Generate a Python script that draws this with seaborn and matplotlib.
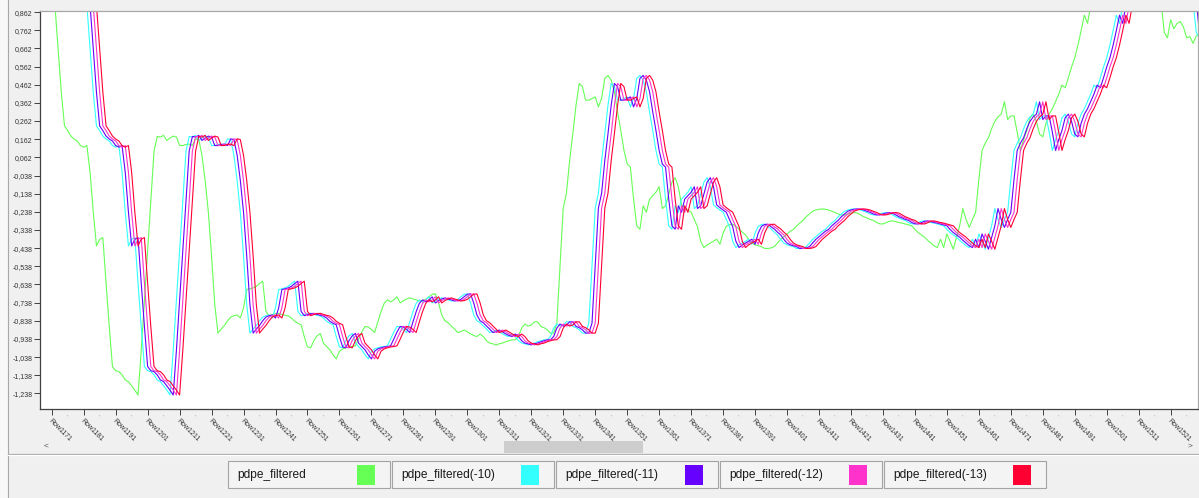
import numpy as np
import pandas as pd
import matplotlib
matplotlib.use("Agg")
import matplotlib.pyplot as plt
from matplotlib.patches import Rectangle
import seaborn as sns

# ---------------------------------------------------------------------------
# Data: pdpe_filtered by row, starting at Row1154 (rows before Row1171 are
# needed so the lagged copies cover the whole visible window).
# ---------------------------------------------------------------------------
first_row = 1154
pdpe_filtered = [
    1.30, 1.29, 1.27, 1.26, 1.24, 1.22, 1.21, 1.19, 1.17, 1.16,            # 1154-1163
    1.14, 1.12, 1.10, 1.08, 1.06, 1.04, 1.02, 0.99, 0.90, 0.66,            # 1164-1173
    0.42, 0.235, 0.209, 0.179, 0.163, 0.152, 0.127, 0.118, 0.127, -0.02,   # 1174-1183
    -0.24, -0.426, -0.389, -0.380, -0.63, -0.87, -1.09, -1.113, -1.118, -1.136,   # 1184-1193
    -1.164, -1.173, -1.197, -1.220, -1.247, -1.002, -0.727, -0.450, -0.177, 0.096,  # 1194-1203
    0.177, 0.174, 0.183, 0.155, 0.168, 0.179, 0.174, 0.127, 0.127, 0.133,   # 1204-1213
    0.135, 0.127, 0.164, 0.160, 0.073, -0.066, -0.241, -0.481, -0.749, -0.906,  # 1214-1223
    -0.884, -0.864, -0.838, -0.818, -0.810, -0.806, -0.823, -0.767, -0.666, -0.662,  # 1224-1233
    -0.657, -0.648, -0.633, -0.620, -0.786, -0.810, -0.804, -0.799, -0.797, -0.803,  # 1234-1243
    -0.808, -0.812, -0.823, -0.841, -0.852, -0.860, -0.925, -0.982, -0.987, -0.947,  # 1244-1253
    -0.921, -0.908, -0.961, -0.980, -0.998, -1.026, -1.048, -1.006, -0.993, -0.987,  # 1254-1263
    -0.982, -0.980, -0.976, -0.939, -0.900, -0.869, -0.873, -0.886, -0.903, -0.844,  # 1264-1273
    -0.788, -0.742, -0.723, -0.734, -0.723, -0.706, -0.740, -0.727, -0.718, -0.712,  # 1274-1283
    -0.718, -0.723, -0.729, -0.727, -0.720, -0.706, -0.692, -0.690, -0.740, -0.806,  # 1284-1293
    -0.838, -0.849, -0.867, -0.884, -0.903, -0.897, -0.889, -0.899, -0.910, -0.919,  # 1294-1303
    -0.925, -0.911, -0.925, -0.948, -0.961, -0.965, -0.971, -0.965, -0.961, -0.954,  # 1304-1313
    -0.948, -0.943, -0.943, -0.925, -0.878, -0.856, -0.867, -0.862, -0.844, -0.844,  # 1314-1323
    -0.869, -0.876, -0.888, -0.906, -0.906, -0.851, -0.537, -0.218, -0.136, 0.044,   # 1324-1333
    0.192, 0.349, 0.469, 0.451, 0.377, 0.377, 0.386, 0.395, 0.340, 0.386,   # 1334-1343
    0.497, 0.513, 0.487, 0.423, 0.312, 0.210, 0.100, 0.025, 0.008, -0.168,  # 1344-1353
    -0.315, -0.334, -0.205, -0.241, -0.168, -0.149, -0.130, -0.100, -0.220, -0.205,  # 1354-1363
    -0.140, -0.075, -0.050, -0.100, -0.200, -0.215, -0.228, -0.240, -0.280, -0.320,  # 1364-1373
    -0.400, -0.435, -0.420, -0.410, -0.400, -0.389, -0.417, -0.355, -0.318, -0.308,  # 1374-1383
    -0.306, -0.320, -0.332, -0.350, -0.365, -0.390, -0.410, -0.420, -0.425, -0.430,  # 1384-1393
    -0.440, -0.440, -0.437, -0.430, -0.410, -0.390, -0.375, -0.360, -0.345, -0.335,  # 1394-1403
    -0.315, -0.300, -0.285, -0.265, -0.250, -0.235, -0.228, -0.224, -0.222, -0.224,  # 1404-1413
    -0.228, -0.235, -0.241, -0.250, -0.255, -0.255, -0.250, -0.245, -0.242, -0.245,  # 1414-1423
    -0.255, -0.265, -0.272, -0.280, -0.285, -0.297, -0.304, -0.305, -0.298, -0.290,  # 1424-1433
    -0.288, -0.292, -0.297, -0.300, -0.305, -0.310, -0.315, -0.335, -0.352, -0.365,  # 1434-1443
    -0.378, -0.395, -0.410, -0.425, -0.435, -0.389, -0.435, -0.360, -0.400, -0.444,  # 1444-1453
    -0.380, -0.315, -0.220, -0.280, -0.324, -0.280, -0.241, -0.060, 0.100, 0.140,    # 1454-1463
    0.170, 0.220, 0.260, 0.285, 0.300, 0.368, 0.270, 0.290, 0.290, 0.200,   # 1464-1473
    0.100, 0.160, 0.210, 0.280, 0.300, 0.260, 0.190, 0.175, 0.250, 0.300,   # 1474-1483
    0.330, 0.370, 0.410, 0.460, 0.445, 0.500, 0.560, 0.610, 0.680, 0.760,   # 1484-1493
    0.845, 0.800, 0.900, 0.960, 1.000, 1.030, 1.050, 1.080, 1.100, 1.100,   # 1494-1503
    1.080, 1.060, 1.050, 1.030, 1.020, 1.000, 0.990, 0.980, 0.970, 0.960,   # 1504-1513
    0.950, 0.940, 0.930, 0.920, 0.920, 0.750, 0.720, 0.820, 0.770, 0.800,   # 1514-1523
    0.810, 0.780, 0.720, 0.727, 0.690, 0.730, 0.740,                        # 1524-1530
]

lags = [10, 11, 12, 13]
series_names = ["pdpe_filtered", "pdpe_filtered(-10)", "pdpe_filtered(-11)",
                "pdpe_filtered(-12)", "pdpe_filtered(-13)"]
series_colors = ["#66ff55", "#33ffff", "#6600ff", "#ff33cc", "#ff0033"]

tick_rows = list(range(1171, 1522, 10))
tick_labels = [f"Row{r}" for r in tick_rows]
y_ticks = [0.862, 0.762, 0.662, 0.562, 0.462, 0.362, 0.262, 0.162, 0.062, -0.038,
           -0.138, -0.238, -0.338, -0.438, -0.538, -0.638, -0.738, -0.838, -0.938,
           -1.038, -1.138, -1.238]

# ---------------------------------------------------------------------------
# Long-form table: the base series plus its lagged copies
# ---------------------------------------------------------------------------
rows = np.arange(first_row, first_row + len(pdpe_filtered))
base = pd.Series(pdpe_filtered, index=rows, dtype=float)
frames = [pd.DataFrame({"row": rows, "value": base.values, "series": series_names[0]})]
for lag, name in zip(lags, series_names[1:]):
    frames.append(pd.DataFrame({"row": rows, "value": base.shift(lag).values,
                                "series": name}))
long_df = pd.concat(frames, ignore_index=True).dropna()

# ---------------------------------------------------------------------------
# Figure
# ---------------------------------------------------------------------------
W, H = 1199, 498
BG = "#f0f0f0"
FONT = ["Liberation Sans", "DejaVu Sans"]
plt.rcParams["font.family"] = FONT

fig = plt.figure(figsize=(W / 100, H / 100), dpi=100, facecolor=BG)

# chrome layer in pixel coordinates (frame lines, scrollbar, legend strip)
chrome = fig.add_axes([0, 0, 1, 1], zorder=0)
chrome.set_xlim(0, W)
chrome.set_ylim(H, 0)
chrome.axis("off")

ax = fig.add_axes([39.5 / W, (H - 409) / H, (1198 - 39.5) / W, (409 - 11) / H], zorder=2)
ax.set_facecolor("white")

sns.lineplot(data=long_df, x="row", y="value", hue="series",
             hue_order=series_names, palette=series_colors,
             estimator=None, sort=True, linewidth=0.8, legend=False, ax=ax)

ax.set_xlim(1167.18, 1529.55)
ax.set_ylim(-1.324, 0.868)
ax.set_xlabel("")
ax.set_ylabel("")

for side in ("left", "bottom"):
    ax.spines[side].set_color("#404040")
    ax.spines[side].set_linewidth(0.9)
for side in ("top", "right"):
    ax.spines[side].set_color("#a8a8a8")
    ax.spines[side].set_linewidth(0.9)

ax.set_yticks(y_ticks)
ax.set_yticklabels([f"{v:.3f}".replace(".", ",") for v in y_ticks])
ax.tick_params(axis="y", length=4, width=0.7, color="#404040", pad=1,
               labelsize=5, labelcolor="#333333")

ax.set_xticks(tick_rows)
ax.set_xticklabels(tick_labels, rotation=-45, ha="left", va="top",
                   rotation_mode="anchor")
ax.set_xticks([r + 5 for r in tick_rows], minor=True)
ax.set_xticklabels(["-"] * len(tick_rows), minor=True, rotation=-45, ha="left",
                   va="top", rotation_mode="anchor")
ax.tick_params(axis="x", which="major", length=4, width=0.7, color="#404040",
               pad=2, labelsize=5, labelcolor="#333333")
ax.tick_params(axis="x", which="minor", length=0, pad=3, labelsize=4,
               labelcolor="#777777")
ax.grid(False)

# outer panel edge on the left
chrome.add_patch(Rectangle((0, 0), 7.5, H, facecolor="#f8f8f8", edgecolor="none"))
chrome.plot([7.5, 7.5], [0, H], color="#a8a8a8", lw=0.8)

# horizontal scrollbar under the row labels
chrome.add_patch(Rectangle((504, 440.5), 139, 12, facecolor="#cdcdcd", edgecolor="none"))
chrome.text(46, 446.5, "<", fontsize=6, color="#555555", ha="center", va="center")
chrome.text(1190, 446.5, ">", fontsize=6, color="#555555", ha="center", va="center")
chrome.plot([7.5, W], [453.5, 453.5], color="#a8a8a8", lw=0.9)
chrome.plot([7.5, W], [455.3, 455.3], color="white", lw=0.9)

# legend strip: one framed cell per series, label then colour swatch
cell_left = [228, 392, 556, 720, 884]
for left, name, color in zip(cell_left, series_names, series_colors):
    chrome.add_patch(Rectangle((left, 461), 162, 26.5, facecolor="#f4f4f4",
                               edgecolor="#a4a4a4", lw=0.8))
    chrome.text(left + 9, 474.5, name, fontsize=8.6, color="#1a1a1a",
                ha="left", va="center")
    chrome.add_patch(Rectangle((left + 129, 464.5), 18, 20, facecolor=color,
                               edgecolor="none"))

fig.savefig("out.png", dpi=100, facecolor=BG)
